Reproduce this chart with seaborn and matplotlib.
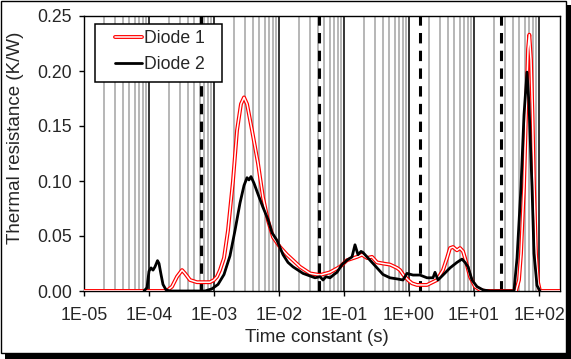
import numpy as np
import pandas as pd
import matplotlib
matplotlib.use("Agg")
import matplotlib.pyplot as plt
import seaborn as sns
from matplotlib import patheffects as pe
from matplotlib.ticker import FixedLocator, FuncFormatter, NullFormatter
from matplotlib.patches import Rectangle
from matplotlib.lines import Line2D

# ---------------- data ----------------
# time constants given as log10(t / s)
diode1_logt = [-5.0, -3.754, -3.708, -3.646, -3.569, -3.492, -3.446, -3.369, -3.262,
               -3.169, -3.062, -3.000, -2.954, -2.908, -2.846, -2.785, -2.708, -2.646,
               -2.585, -2.538, -2.492, -2.415, -2.323, -2.246, -2.169, -2.092, -1.985,
               -1.877, -1.785, -1.677, -1.523, -1.369, -1.215, -1.062, -0.954, -0.800,
               -0.723, -0.646, -0.569, -0.492, -0.400, -0.292, -0.185, -0.138, -0.092,
               -0.015, 0.046, 0.123, 0.277, 0.431, 0.523, 0.585, 0.631, 0.677, 0.738,
               0.785, 0.831, 0.862, 0.938, 1.015, 1.092, 1.169, 1.646, 1.692, 1.723,
               1.769, 1.800, 1.831, 1.851, 1.877, 1.900, 1.923, 1.954, 1.985, 2.015, 2.323]
diode1_r = [0.0, 0.0, 0.001, 0.004, 0.013, 0.019, 0.016, 0.010, 0.008,
            0.008, 0.008, 0.010, 0.013, 0.019, 0.030, 0.055, 0.100, 0.146,
            0.170, 0.176, 0.170, 0.146, 0.116, 0.085, 0.064, 0.049, 0.040,
            0.033, 0.028, 0.022, 0.016, 0.0145, 0.017, 0.022, 0.028, 0.031,
            0.033, 0.030, 0.031, 0.026, 0.025, 0.024, 0.021, 0.019, 0.015,
            0.010, 0.007, 0.0055, 0.0055, 0.010, 0.019, 0.030, 0.039, 0.040, 0.037,
            0.039, 0.036, 0.030, 0.013, 0.004, 0.001, 0.0, 0.0, 0.010, 0.034,
            0.095, 0.160, 0.220, 0.233, 0.210, 0.160, 0.095, 0.034, 0.008, 0.0, 0.0]

diode2_logt = [-4.077, -4.031, -4.000, -3.969, -3.938, -3.908, -3.869, -3.846, -3.815,
               -3.785, -3.738, -3.677, -3.138, -3.031, -2.938, -2.846, -2.754, -2.677,
               -2.600, -2.538, -2.492, -2.462, -2.431, -2.385, -2.323, -2.246, -2.169,
               -2.108, -2.031, -1.938, -1.862, -1.785, -1.708, -1.631, -1.538, -1.446,
               -1.369, -1.323, -1.277, -1.215, -1.154, -1.108, -1.031, -0.954, -0.877,
               -0.831, -0.785, -0.738, -0.708, -0.646, -0.600, -0.538, -0.492, -0.400,
               -0.292, -0.185, -0.092, -0.031, 0.062, 0.169, 0.277, 0.369, 0.400, 0.446,
               0.523, 0.631, 0.738, 0.815, 0.862, 0.908, 0.969, 1.046, 1.138, 1.246,
               1.615, 1.662, 1.723, 1.769, 1.815, 1.846, 1.892, 1.923, 1.969, 2.015]
diode2_r = [0.0, 0.003, 0.018, 0.021, 0.019, 0.022, 0.0276, 0.025, 0.015,
            0.006, 0.001, 0.0, 0.0, 0.002, 0.006, 0.015, 0.032, 0.055,
            0.080, 0.096, 0.103, 0.101, 0.104, 0.098, 0.088, 0.076, 0.065,
            0.053, 0.046, 0.033, 0.026, 0.022, 0.019, 0.016, 0.014, 0.012,
            0.013, 0.010, 0.013, 0.012, 0.015, 0.017, 0.024, 0.028, 0.031,
            0.042, 0.033, 0.036, 0.035, 0.031, 0.028, 0.024, 0.021, 0.015,
            0.012, 0.011, 0.010, 0.016, 0.0145, 0.0145, 0.012, 0.012, 0.017, 0.010,
            0.0145, 0.021, 0.026, 0.029, 0.026, 0.022, 0.010, 0.004, 0.001, 0.0,
            0.0, 0.030, 0.095, 0.160, 0.199, 0.170, 0.095, 0.034, 0.005, 0.0]

dashed_t = [6.3e-4, 4.1e-2, 1.48, 26.0]
x_ticks = [1e-5, 1e-4, 1e-3, 1e-2, 1e-1, 1e0, 1e1, 1e2]
y_ticks = [0.0, 0.05, 0.10, 0.15, 0.20, 0.25]
series_labels = ["Diode 1", "Diode 2"]

# ---------------- style ----------------
sns.set_theme(style="white")
plt.rcParams["font.family"] = ["Liberation Sans", "DejaVu Sans"]

W, H = 571, 359
fig = plt.figure(figsize=(W / 100, H / 100), dpi=100)
fig.patch.set_facecolor("white")

# outer frame with drop shadow
fig.patches.append(Rectangle((5 / W, 0), 1 - 5 / W, 1 - 5 / H, transform=fig.transFigure,
                             facecolor="black", edgecolor="none", zorder=-3))
fig.patches.append(Rectangle((0.6 / W, 6 / H), 565.4 / W, 1 - 6.6 / H, transform=fig.transFigure,
                             facecolor="white", edgecolor="black", lw=1.0, zorder=-2))

ax = fig.add_axes([84 / W, 1 - 291 / H, (560 - 84) / W, (291 - 16) / H])
ax.set_facecolor("white")

df1 = pd.DataFrame({"t": 10 ** np.array(diode1_logt), "R": diode1_r})
df2 = pd.DataFrame({"t": 10 ** np.array(diode2_logt), "R": diode2_r})

red_fx = [pe.Stroke(linewidth=2.8, foreground="#ff0000"), pe.Normal()]
sns.lineplot(data=df1, x="t", y="R", ax=ax, color="white", lw=1.1, sort=False,
             estimator=None, path_effects=red_fx, zorder=3)
sns.lineplot(data=df2, x="t", y="R", ax=ax, color="black", lw=2.0, sort=False,
             estimator=None, zorder=4)

for xv in dashed_t:
    ax.axvline(xv, color="black", lw=2.2, dashes=(3.4, 2.4), zorder=2.5)

ax.set_xscale("log")
ax.set_xlim(1e-5, 10 ** 2.323)
ax.set_ylim(0, 0.25)

minor = [k * 10.0 ** e for e in range(-5, 2) for k in range(2, 10)]
ax.xaxis.set_major_locator(FixedLocator(x_ticks))
ax.xaxis.set_minor_locator(FixedLocator(minor))
ax.xaxis.set_minor_formatter(NullFormatter())
ax.xaxis.set_major_formatter(FuncFormatter(lambda v, p: f"{v:.0E}"))
ax.yaxis.set_major_locator(FixedLocator(y_ticks))
ax.yaxis.set_major_formatter(FuncFormatter(lambda v, p: f"{v:.2f}"))

ax.grid(False)
ax.grid(which="minor", axis="x", color="#a3a3a3", lw=1.1, zorder=1)
ax.grid(which="major", axis="x", color="black", lw=1.1, zorder=1.2)
ax.set_axisbelow(True)

for s in ax.spines.values():
    s.set_color("black")
    s.set_linewidth(1.0)

ax.tick_params(axis="x", which="major", direction="out", length=3.6, width=1.0,
               color="black", pad=8, labelsize=12.7, bottom=True)
ax.tick_params(axis="x", which="minor", length=0)
ax.tick_params(axis="y", which="major", direction="out", length=3.6, width=1.0,
               color="black", pad=5, labelsize=12.7, left=True)
ax.set_xlabel("")
ax.set_ylabel("")

fig.text(317 / W, 1 - 338 / H, "Time constant (s)", ha="center", va="center", fontsize=13.5)
fig.text(16 / W, 1 - 138 / H, "Thermal resistance (K/W)", ha="center", va="center",
         rotation=90, fontsize=13.5)

# legend box
ax.add_patch(Rectangle(((95 - 84) / 476, 1 - (82 - 16) / 275), (222 - 95) / 476, (82 - 24) / 275,
                       transform=ax.transAxes, facecolor="white", edgecolor="black",
                       lw=1.1, zorder=6, clip_on=False))
handles = [Line2D([], [], color="white", lw=1.1, path_effects=red_fx),
           Line2D([], [], color="black", lw=2.0)]
leg = ax.legend(handles, series_labels, loc="upper left",
                bbox_to_anchor=((115 - 84) / 476, 1 - (30 - 16) / 275),
                frameon=False, borderpad=0, borderaxespad=0, handlelength=1.53,
                handletextpad=0.1, labelspacing=0.53, fontsize=12.7)
leg.set_zorder(7)

fig.savefig("out.png", dpi=100, facecolor="white")
